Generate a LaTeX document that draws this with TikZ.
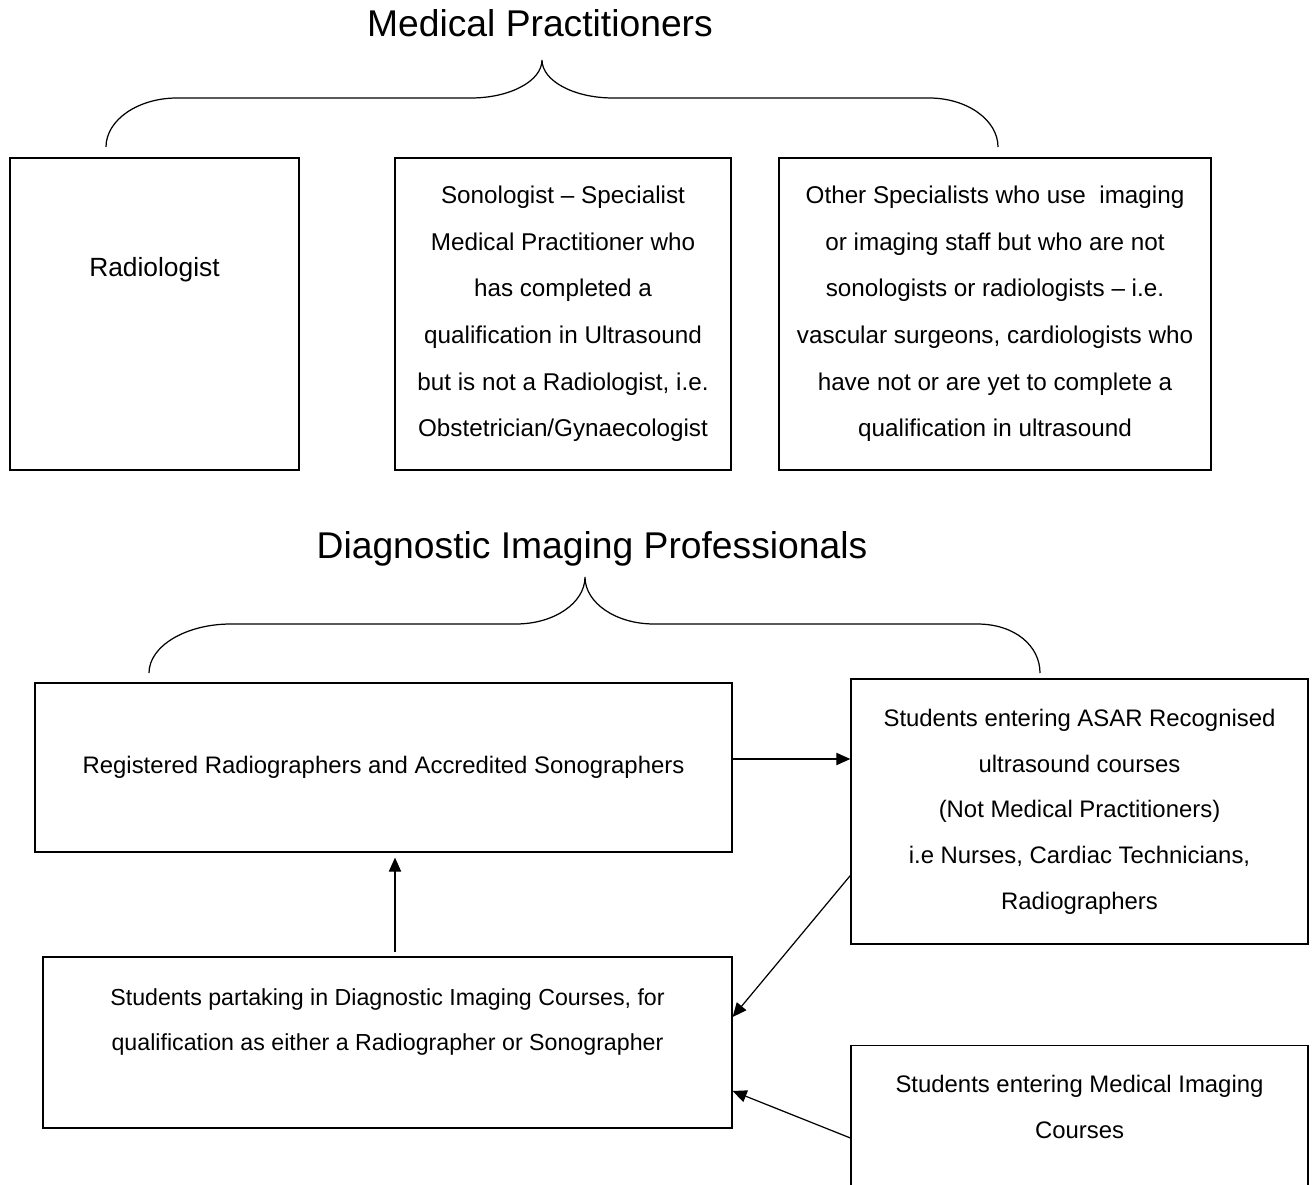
\documentclass[tikz,border=0pt]{standalone}
\usepackage{fontspec}
\setmainfont{Liberation Sans}
\usetikzlibrary{arrows.meta}

\begin{document}
\begin{tikzpicture}[x=0.02cm,y=-0.02cm,
    box/.style={draw,line width=0.8pt,align=center,inner sep=0pt},
    toptext/.style={font=\fontsize{15}{26.5}\selectfont},
    midtext/.style={font=\fontsize{13.8}{26.5}\selectfont},
    lowtext/.style={font=\fontsize{13.6}{26}\selectfont},
    heading/.style={anchor=base,font=\fontsize{21.2}{25}\selectfont},
    arr/.style={-{Triangle[length=8pt,width=7pt]},line width=0.7pt},
    brace/.style={line width=0.7pt}]
      \useasboundingbox (0,0) rectangle (1315,1185);
      \node[heading] (medtitle) at (540,37) {Medical Practitioners};
      \draw[brace] (106,147) .. controls (106,120) and (138,98) .. (177,98) -- (471,98)
            .. controls (510,98) and (542,81) .. (542,60)
            .. controls (542,81) and (574,98) .. (613,98) -- (929,98)
            .. controls (967,98) and (998,120) .. (998,147);
      \node[box,toptext,minimum width=5.78cm,minimum height=6.24cm] (rad) at (154.5,314) {Radiologist\\ \mbox{}\\ \mbox{}};
      \node[box,midtext,minimum width=6.72cm,minimum height=6.24cm] (sono) at (563,314) {Sonologist – Specialist\\ Medical Practitioner who\\ has completed a\\ qualification in Ultrasound\\ but is not a Radiologist, i.e.\\ Obstetrician/Gynaecologist};
      \node[box,midtext,minimum width=8.64cm,minimum height=6.24cm] (other) at (995,314) {Other Specialists who use\ \ imaging\\ or imaging staff but who are not\\ sonologists or radiologists – i.e.\\ vascular surgeons, cardiologists who\\ have not or are yet to complete a\\ qualification in ultrasound};

      \node[heading] (diptitle) at (592,559) {Diagnostic Imaging Professionals};
      \draw[brace] (149,673) .. controls (149,646) and (186,624) .. (231,624) -- (516,624)
            .. controls (554,624) and (585,603) .. (585,577)
            .. controls (585,603) and (616,624) .. (654,624) -- (977,624)
            .. controls (1015,624) and (1040,646) .. (1040,673);
      \node[box,lowtext,minimum width=13.94cm,minimum height=3.38cm] (reg) at (383.5,767.5) {Registered Radiographers and Accredited Sonographers};
      \node[box,lowtext,minimum width=9.14cm,minimum height=5.3cm] (asar) at (1079.5,811.5) {Students entering ASAR Recognised\\ ultrasound courses\\ (Not Medical Practitioners)\\ i.e Nurses, Cardiac Technicians,\\ Radiographers};
      \node[box,font=\fontsize{13.2}{25.6}\selectfont,minimum width=13.78cm,minimum height=3.42cm] (part) at (387.5,1042.5) {Students partaking in Diagnostic Imaging Courses, for\\ qualification as either a Radiographer or Sonographer\\ \mbox{}};
      \node[box,lowtext,anchor=north,minimum width=9.14cm,minimum height=4.28cm] (medimg) at (1079.5,1045) {Students entering Medical Imaging\\ Courses\\ \mbox{}\\ \mbox{}};

      \draw[arr] ([yshift=0.17cm]reg.east) -- ([yshift=0.17cm]reg.east -| asar.west);
      \draw[arr,shorten <=2.3pt,shorten >=2.8pt] ([xshift=0.15cm]part.north) -- ([xshift=0.15cm]part.north |- reg.south);
      \draw[arr] ([yshift=-1.28cm]asar.west) -- ([yshift=0.51cm]part.east);
      \draw[arr] ([yshift=-1.86cm]medimg.north west) -- ([yshift=-0.97cm]part.east);
\end{tikzpicture}
\end{document}
